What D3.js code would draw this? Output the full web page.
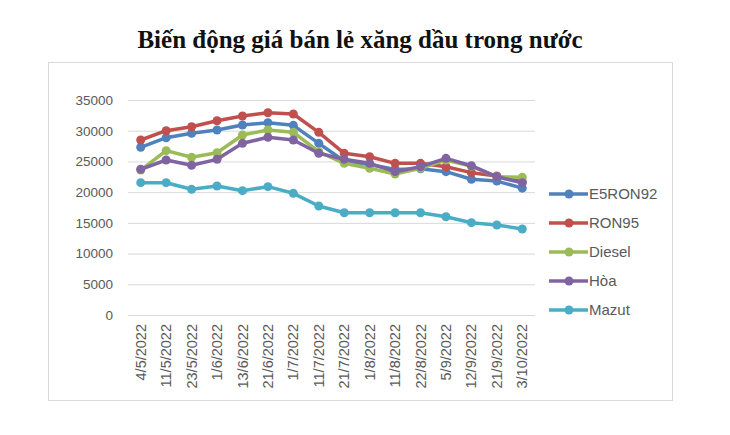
<!DOCTYPE html>
<html>
<head>
<meta charset="utf-8">
<script src="https://cdn.jsdelivr.net/npm/d3@7"></script>
<style>
  body { margin: 0; background: #fff; }
  svg { display: block; }
</style>
</head>
<body>
<svg id="chart" width="730" height="435"></svg>
<script>
var dates = ['4/5/2022', '11/5/2022', '23/5/2022', '1/6/2022', '13/6/2022', '21/6/2022', '1/7/2022', '11/7/2022',
  '21/7/2022', '1/8/2022', '11/8/2022', '22/8/2022', '5/9/2022', '12/9/2022', '21/9/2022', '3/10/2022'];

var e5ron92 = [27300, 28860, 29580, 30120, 30930, 31310, 30880, 27950, 25070, 24500, 23700, 23800, 23330, 22100, 21800, 20650];
var ron95 = [28490, 30000, 30650, 31630, 32390, 32930, 32720, 29740, 26320, 25770, 24690, 24690, 24140, 23170, 22630, 21700];
var diesel = [23600, 26750, 25670, 26420, 29300, 30120, 29740, 26580, 24690, 23880, 22950, 23880, 25230, 24200, 22520, 22410];
var hoa = [23720, 25230, 24370, 25340, 27950, 28930, 28490, 26320, 25340, 24690, 23330, 24140, 25500, 24300, 22500, 21540];
var mazut = [21540, 21540, 20460, 21000, 20240, 20890, 19810, 17740, 16650, 16650, 16650, 16650, 16000, 15030, 14650, 14000];

var seriesNames = ['E5RON92', 'RON95', 'Diesel', 'Hòa', 'Mazut'];
var seriesColors = ['#4f81bd', '#c0504d', '#9bbb59', '#8064a2', '#4bacc6'];
var yTicks = [0, 5000, 10000, 15000, 20000, 25000, 30000, 35000];

var series = [e5ron92, ron95, diesel, hoa, mazut].map(function (vals, i) {
  return { name: seriesNames[i], color: seriesColors[i], values: vals };
});

var svg = d3.select('#chart');

// title
svg.append('text')
  .attr('x', 360).attr('y', 48)
  .attr('text-anchor', 'middle')
  .style('font-family', '"Liberation Serif", "Times New Roman", serif')
  .style('font-weight', 'bold')
  .style('font-size', '25px')
  .style('fill', '#111')
  .text('Biến động giá bán lẻ xăng dầu trong nước');

// chart frame
svg.append('rect')
  .attr('x', 48.5).attr('y', 62.5)
  .attr('width', 624).attr('height', 338)
  .attr('fill', 'none')
  .attr('stroke', '#d9d9d9');

var x = d3.scaleBand().domain(dates).range([128, 535]);
var y = d3.scaleLinear().domain([0, 35000]).range([315, 100]);

// gridlines + y labels
var yAxis = svg.append('g')
  .attr('transform', 'translate(128,0)')
  .call(d3.axisLeft(y).tickValues(yTicks).tickSize(-407).tickPadding(15).tickFormat(d3.format('d')));
yAxis.select('.domain').remove();
yAxis.selectAll('line').attr('stroke', '#d9d9d9');
yAxis.selectAll('text')
  .style('font-family', '"Liberation Sans", Arial, sans-serif')
  .style('font-size', '13.5px')
  .style('fill', '#595959');

// x labels
var xAxis = svg.append('g')
  .attr('transform', 'translate(0,315)')
  .call(d3.axisBottom(x).tickSize(0).tickPadding(0));
xAxis.select('.domain').remove();
xAxis.selectAll('text')
  .attr('transform', 'rotate(-90)')
  .attr('x', -9).attr('y', 0).attr('dy', '0.35em')
  .style('text-anchor', 'end')
  .style('font-family', '"Liberation Sans", Arial, sans-serif')
  .style('font-size', '14.5px')
  .style('fill', '#595959');

var line = d3.line()
  .x(function (d, i) { return x(dates[i]) + x.bandwidth() / 2; })
  .y(function (d) { return y(d); });

var g = svg.append('g').selectAll('g').data(series).join('g');
g.append('path')
  .attr('d', function (s) { return line(s.values); })
  .attr('fill', 'none')
  .attr('stroke', function (s) { return s.color; })
  .attr('stroke-width', 3.5)
  .attr('stroke-linejoin', 'round');
g.selectAll('circle')
  .data(function (s) { return s.values.map(function (v, i) { return { v: v, i: i, c: s.color }; }); })
  .join('circle')
  .attr('cx', function (d) { return x(dates[d.i]) + x.bandwidth() / 2; })
  .attr('cy', function (d) { return y(d.v); })
  .attr('r', 4.5)
  .attr('fill', function (d) { return d.c; });

// legend
var legend = svg.append('g').selectAll('g').data(series).join('g')
  .attr('transform', function (s, i) { return 'translate(549,' + (194 + i * 29) + ')'; });
legend.append('line')
  .attr('x1', 0).attr('x2', 39)
  .attr('stroke', function (s) { return s.color; })
  .attr('stroke-width', 3.5);
legend.append('circle')
  .attr('cx', 20).attr('r', 4.5)
  .attr('fill', function (s) { return s.color; });
legend.append('text')
  .attr('x', 40).attr('dy', '0.35em')
  .style('font-family', '"Liberation Sans", Arial, sans-serif')
  .style('font-size', '15px')
  .style('fill', '#595959')
  .text(function (s) { return s.name; });
</script>
</body>
</html>
